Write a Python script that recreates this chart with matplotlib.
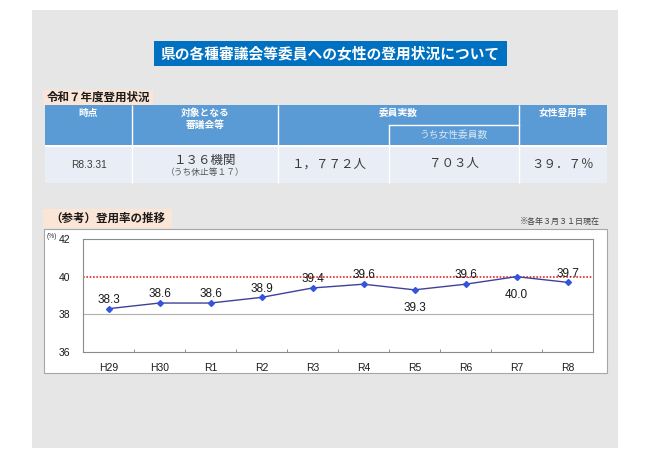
import matplotlib
matplotlib.use("Agg")
import matplotlib.pyplot as plt
from matplotlib.patches import Rectangle

plt.rcParams['font.family'] = ['Noto Sans CJK JP', 'DejaVu Sans']

title = "県の各種審議会等委員への女性の登用状況について"
table_title = "令和７年度登用状況"
headers = ["時点", "対象となる\n審議会等", "委員実数", "女性登用率"]
sub_header = "うち女性委員数"
row_date = "R8.3.31"
row_bodies = "１３６機関"
row_bodies_note = "（うち休止等１７）"
row_members = "１，７７２人"
row_women = "７０３人"
row_rate = "３９．７％"

chart_title = "（参考）登用率の推移"
chart_note = "※各年３月３１日現在"
years = ["H29", "H30", "R1", "R2", "R3", "R4", "R5", "R6", "R7", "R8"]
rates = [38.3, 38.6, 38.6, 38.9, 39.4, 39.6, 39.3, 39.6, 40.0, 39.7]
labels_below = ["R5", "R7"]
target = 40

W, H = 650, 459
fig = plt.figure(figsize=(W / 100, H / 100), dpi=100)
fig.patch.set_facecolor("white")

bg = fig.add_axes([0, 0, 1, 1])
bg.set_xlim(0, W)
bg.set_ylim(H, 0)
bg.axis("off")


def box(x0, y0, x1, y1, color, **kw):
    bg.add_patch(Rectangle((x0, y0), x1 - x0, y1 - y0, facecolor=color, **kw))


def vline(x, y0, y1, color="white", lw=1.0):
    bg.plot([x, x], [y0, y1], color=color, lw=lw, solid_capstyle="butt")


# grey panel
box(32, 10, 618, 448, "#e6e6e6", edgecolor="none")

# title
box(154, 41, 507, 66, "#0070c0", edgecolor="none")
bg.text(330.5, 53.5, title, color="white", fontsize=10.6, fontweight="bold",
        ha="center", va="center")

# table
box(43, 90, 153, 105, "#fbe5d6", edgecolor="none")
bg.text(47, 97.5, table_title, fontsize=8.3, fontweight="bold", ha="left",
        va="center", color="#1a1a1a")

cols = [45, 132, 278, 389, 519, 607]
box(cols[0], 105, cols[-1], 145, "#5b9bd5", edgecolor="none")
box(cols[0], 145, cols[-1], 147, "white", edgecolor="none")
box(cols[0], 147, cols[-1], 183, "#e9eef6", edgecolor="none")
for x in [132, 278, 519]:
    vline(x, 105, 183)
vline(389, 125, 183)
bg.plot([389, 519], [125, 125], color="white", lw=1.0)

hx = [(45 + 132) / 2, (132 + 278) / 2, (278 + 519) / 2, (519 + 607) / 2]
for x, h in zip(hx, headers):
    bg.text(x, 108, h, color="white", fontsize=7, fontweight="bold",
            ha="center", va="top", linespacing=1.2)
bg.text((389 + 519) / 2, 135, sub_header, color="#d9e7f5", fontsize=7,
        ha="center", va="center")

dark = "#3a3a3a"
bg.text(hx[0], 165, row_date, fontsize=7.3, ha="center", va="center",
        color=dark, family=["Liberation Sans", "Noto Sans CJK JP"])
bg.text(hx[1], 160, row_bodies, fontsize=9, ha="center", va="center", color=dark)
bg.text(hx[1], 172.5, row_bodies_note, fontsize=6.3, ha="center", va="center",
        color="#555555")
bg.text((278 + 389) / 2 - 4, 164, row_members, fontsize=9, ha="center",
        va="center", color=dark)
bg.text((389 + 519) / 2, 164, row_women, fontsize=9, ha="center", va="center",
        color=dark)
bg.text(hx[3], 164, row_rate, fontsize=9, ha="center", va="center", color=dark)

# chart section
box(43, 209, 172, 228, "#fbe5d6", edgecolor="none")
bg.text(50, 218.5, chart_title, fontsize=8.3, fontweight="bold", ha="left",
        va="center", color="#1a1a1a")
bg.text(600, 221, chart_note, fontsize=5.8, ha="right", va="center",
        color="#404040")
box(44, 229, 607, 373, "white", edgecolor="#a6a6a6", linewidth=0.8)
bg.text(47, 236, "(%)", fontsize=4.8, ha="left", va="center", color="#333333",
        family=["Liberation Sans"])

ax = fig.add_axes([83 / W, 1 - 352 / H, 510 / W, 113 / H])
ax.set_facecolor("white")
x = list(range(len(years)))
ax.plot(x, rates, color="#40409a", lw=1.0, marker="D", markersize=3,
        markerfacecolor="#3355dd", markeredgecolor="#3355dd", zorder=4)
ax.axhline(38, color="#b0b0b0", lw=0.8, zorder=1)
ax.axhline(target, color="#e62a2a", lw=1.2, ls=(0, (1, 1)), zorder=2)
for xi, yr, v in zip(x, years, rates):
    if yr in labels_below:
        ax.annotate(f"{v:.1f}", (xi, v), xytext=(0, -9), textcoords="offset points",
                    ha="center", va="top", fontsize=8.5,
                    family=["Liberation Sans"], color="#1a1a1a", zorder=5)
    else:
        ax.annotate(f"{v:.1f}", (xi, v), xytext=(0, 2), textcoords="offset points",
                    ha="center", va="bottom", fontsize=8.5,
                    family=["Liberation Sans"], color="#1a1a1a", zorder=5)

ax.set_xlim(-0.5, len(years) - 0.5)
ax.set_ylim(36, 42)
ax.set_yticks([36, 38, 40, 42])
ax.set_xticks(x)
ax.set_xticklabels(years, family=["Liberation Sans"], fontsize=7.5,
                   color="#1a1a1a")
ax.set_yticklabels(["36", "38", "40", "42"], family=["Liberation Sans"],
                   fontsize=7.5, color="#1a1a1a")
ax.tick_params(axis="x", length=0, pad=8)
ax.tick_params(axis="y", length=0, pad=9)
ax.set_xticks([i + 0.5 for i in range(len(years) - 1)], minor=True)
ax.tick_params(axis="x", which="minor", direction="in", length=2.5,
               color="#808080", width=0.6)
for s in ax.spines.values():
    s.set_color("#8c8c8c")
    s.set_linewidth(0.8)

plt.savefig("out.png", dpi=100)
